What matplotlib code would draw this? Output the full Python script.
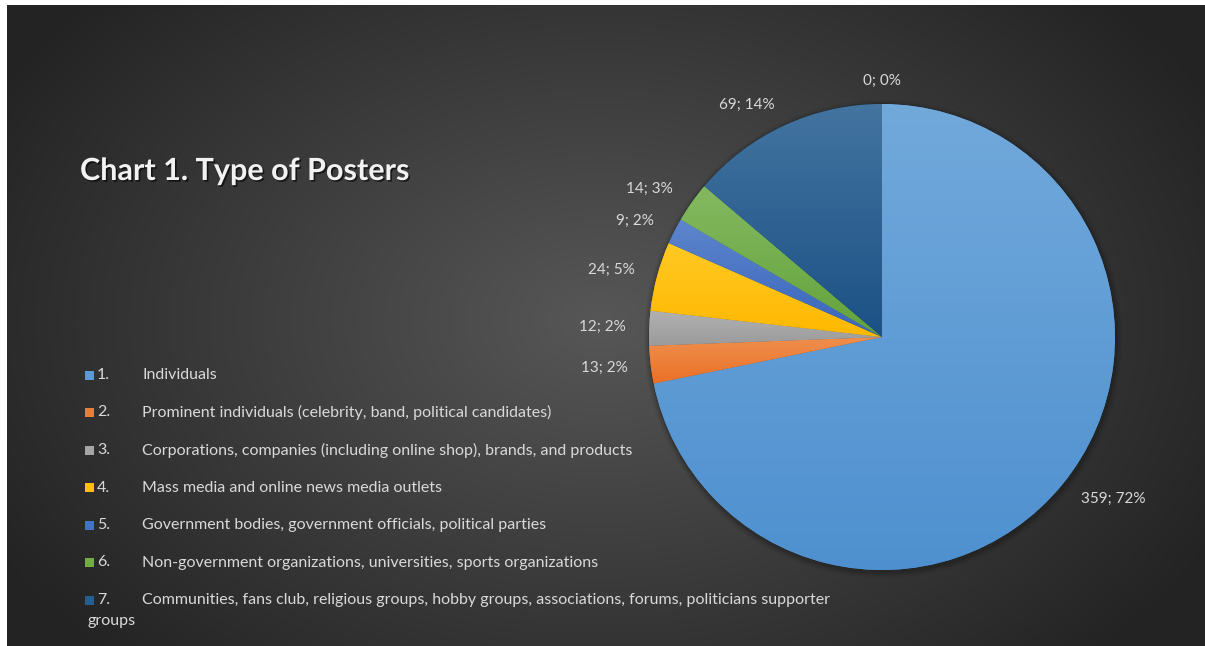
import textwrap
import numpy as np
import matplotlib.pyplot as plt
from matplotlib.patches import Rectangle, Circle
from matplotlib.colors import to_rgb
import matplotlib.patheffects as pe

plt.rcParams["font.family"] = ["Lato", "DejaVu Sans"]

# ---- data -----------------------------------------------------------------
title = "Chart 1. Type of Posters"
categories = [
    "Individuals",
    "Prominent individuals (celebrity, band, political candidates)",
    "Corporations, companies (including online shop), brands, and products",
    "Mass media and online news media outlets",
    "Government bodies, government officials, political parties",
    "Non-government organizations, universities, sports organizations",
    "Communities, fans club, religious groups, hobby groups, associations, "
    "forums, politicians supporter groups",
]
counts = [359, 13, 12, 24, 9, 14, 69, 0]
percent_text = ["72%", "2%", "2%", "5%", "2%", "3%", "14%", "0%"]
colors = ["#5B9BD5", "#ED7D31", "#A5A5A5", "#FFC000",
          "#4472C4", "#70AD47", "#255E91", "#9E480E"]

# ---- canvas (axes in pixel units) ------------------------------------------
W, H = 1205, 646
fig = plt.figure(figsize=(W / 100, H / 100), dpi=100, facecolor="white")
ax = fig.add_axes([0, 0, 1, 1])

# radial grey background panel
yy, xx = np.mgrid[0:641, 7:W]
d = np.sqrt(((xx - 600) / 700.0) ** 2 + ((yy + 5 - 320) / 480.0) ** 2)
lum = (35 + 52 * np.clip(1 - d, 0, 1)) / 255.0
bg = np.dstack([lum, lum, lum])
ax.imshow(bg, extent=(7, W, 0, 641), origin="upper", aspect="auto",
          interpolation="bilinear", zorder=0)

# ---- pie -------------------------------------------------------------------
cx, cy, R = 882, H - 337, 233

# soft drop shadow
for k, a in [(6, 0.05), (4, 0.08), (2, 0.12)]:
    ax.add_patch(Circle((cx + 1, cy - 2), R + k, facecolor="black",
                        edgecolor="none", alpha=a, zorder=1))

wedges, _ = ax.pie(counts, colors=colors, startangle=90, counterclock=False,
                   center=(cx, cy), radius=R, frame=True,
                   wedgeprops=dict(linewidth=0.6, edgecolor=(0, 0, 0, 0.2)))

# vertical light-to-dark shading across each slice's own height
t = np.linspace(0, 1, 256)[:, None, None]
for w, c in zip(wedges, colors):
    verts = w.get_path().vertices
    if len(verts) == 0:
        continue
    x0, x1 = verts[:, 0].min(), verts[:, 0].max()
    y0, y1 = verts[:, 1].min(), verts[:, 1].max()
    if y1 - y0 < 1 or x1 - x0 < 1:
        continue
    base = np.array(to_rgb(c))
    top = base + (1 - base) * 0.14
    bot = base ** 1.15
    grad = top * (1 - t) + bot * t
    im = ax.imshow(grad, extent=(x0, x1, y0, y1),
                   origin="upper", aspect="auto", interpolation="bilinear",
                   zorder=w.get_zorder() + 0.1)
    im.set_clip_path(w)

# data labels just outside each slice
for w, n, p in zip(wedges, counts, percent_text):
    ang = np.deg2rad((w.theta1 + w.theta2) / 2)
    x = cx + 1.1 * R * np.cos(ang)
    y = cy + 1.1 * R * np.sin(ang)
    if abs(np.cos(ang)) < 0.1:
        ha = "center"
    else:
        ha = "left" if np.cos(ang) > 0 else "right"
    ax.text(x, y, f"{n}; {p}", ha=ha, va="center", fontsize=11,
            color="#d9d9d9", zorder=5)

# ---- title -----------------------------------------------------------------
ax.text(80, H - 171, title, fontsize=22, fontweight="bold", color="#f2f2f2",
        ha="left", va="center", zorder=5,
        path_effects=[pe.withSimplePatchShadow(offset=(1.2, -1.2),
                                               shadow_rgbFace="black",
                                               alpha=0.6)])

# ---- legend ------------------------------------------------------------------
row0, step = 375, 37.5
for i, (lab, c) in enumerate(zip(categories, colors)):
    ypx = row0 + i * step
    ax.add_patch(Rectangle((85, H - ypx - 4.5), 9, 9, facecolor=c,
                           edgecolor="none", zorder=5))
    ax.text(97, H - ypx, f"{i + 1}.", ha="left", va="center", fontsize=11.5,
            color="#d9d9d9", zorder=5)
    lines = textwrap.wrap(lab, 100)
    ax.text(142, H - ypx, lines[0], ha="left", va="center", fontsize=11.5,
            color="#d9d9d9", zorder=5)
    for j, extra in enumerate(lines[1:], start=1):
        ax.text(87, H - ypx - 21 * j, extra, ha="left", va="center",
                fontsize=11.5, color="#d9d9d9", zorder=5)

ax.set_xlim(0, W)
ax.set_ylim(0, H)
ax.set_aspect("auto")
ax.axis("off")

fig.savefig("out.png", dpi=100, facecolor="white")
